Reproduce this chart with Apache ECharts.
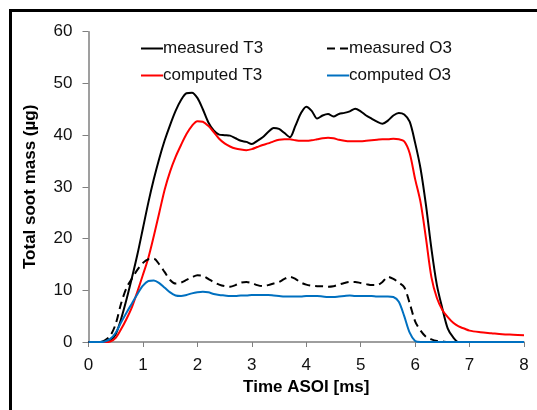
<!DOCTYPE html>
<html>
<head>
<meta charset="utf-8">
<script src="https://cdn.jsdelivr.net/npm/echarts@6/dist/echarts.min.js"></script>
<style>
  html, body { margin: 0; padding: 0; background: #fff; }
  #chart { width: 537px; height: 410px; }
</style>
</head>
<body>
<div id="chart"></div>
<script>
// time after start of injection [ms]
const timeMs = [
  0.0, 0.1, 0.2, 0.3, 0.4, 0.5, 0.6, 0.7, 0.8, 0.9,
  1.0, 1.1, 1.2, 1.3, 1.4, 1.5, 1.6, 1.7, 1.8, 1.9,
  2.0, 2.1, 2.2, 2.3, 2.4, 2.5, 2.6, 2.7, 2.8, 2.9,
  3.0, 3.1, 3.2, 3.3, 3.4, 3.5, 3.6, 3.7, 3.8, 3.9,
  4.0, 4.1, 4.2, 4.3, 4.4, 4.5, 4.6, 4.7, 4.8, 4.9,
  5.0, 5.1, 5.2, 5.3, 5.4, 5.5, 5.6, 5.7, 5.8, 5.9,
  6.0, 6.1, 6.2, 6.3, 6.4, 6.5, 6.6, 6.7, 6.8, 6.9,
  7.0, 7.2, 7.4, 7.6, 7.8, 8.0
]

const measuredT3 = [
  0, 0, 0, 0, 0.3, 1.5, 4.5, 8.3, 12.5, 17,
  22, 27, 31.5, 35.5, 39, 42, 44.7, 46.8, 48.1, 48.2,
  47.2, 45, 42.5, 40.9, 40.1, 40, 39.9, 39.4, 38.9, 38.7,
  38.3, 38.9, 39.6, 40.6, 41.4, 41.2, 40.4, 39.6, 41.8, 44.2,
  45.5, 44.7, 43.2, 43.8, 44.1, 43.6, 44.1, 44.3, 44.6, 45.1,
  44.6, 43.8, 43.2, 42.6, 42.2, 42.8, 43.8, 44.3, 44, 42.6,
  38.5, 33.5, 26.4, 18, 11, 6.5, 2.6, 0.9, 0, 0,
  0, 0, 0, 0, 0, 0
]

const computedT3 = [
  0, 0, 0, 0, 0.1, 0.8, 2.5, 4.5, 6.8, 9.8,
  13, 16.3, 20.5, 25, 29.5, 33, 35.8, 38.1, 40.2, 41.8,
  42.7, 42.6, 41.8, 40.6, 39.3, 38.4, 37.8, 37.4, 37.2, 37.1,
  37.3, 37.7, 38.1, 38.4, 38.8, 39.1, 39.2, 39.2, 39, 38.9,
  38.9, 39, 39.2, 39.4, 39.5, 39.4, 39.1, 38.9, 38.8, 38.8,
  38.8, 38.9, 39, 39.1, 39.2, 39.2, 39.3, 39.2, 38.8, 36.5,
  31.5, 27, 20, 12.5, 8.5, 6.2, 4.8, 3.7, 3, 2.6,
  2.2, 1.9, 1.7, 1.5, 1.4, 1.3
]

const measuredO3 = [
  0, 0, 0, 0.3, 1.2, 3.5, 7.5, 10.5, 12.3, 14,
  15.3, 16, 16.1, 15, 13.5, 12, 11.3, 11.5, 12, 12.5,
  12.9, 12.8, 12.2, 11.6, 11.1, 10.8, 10.7, 11, 11.5, 11.6,
  11.4, 11, 10.8, 11, 11.3, 11.6, 12.2, 12.6, 12.2, 11.5,
  11.1, 10.9, 10.8, 10.8, 10.7, 10.8, 11.1, 11.4, 11.6, 11.6,
  11.4, 11.2, 11, 11, 11.6, 12.6, 12.2, 11.5, 10.6, 7.5,
  4, 2.2, 1, 0.5, 0.2, 0.1, 0, 0, 0, 0,
  0, 0, 0, 0, 0, 0
]

const computedO3 = [
  0, 0, 0, 0.1, 0.6, 1.8, 3.8, 5.7, 7.5, 9.3,
  10.9, 11.8, 11.9, 11.4, 10.5, 9.6, 9, 8.9, 9.1, 9.4,
  9.6, 9.7, 9.6, 9.3, 9.1, 9, 8.9, 8.9, 9, 9,
  9.1, 9.1, 9.1, 9.1, 9, 8.9, 8.8, 8.8, 8.8, 8.8,
  8.9, 8.9, 8.9, 8.8, 8.7, 8.7, 8.8, 8.9, 9, 8.9,
  8.9, 8.9, 8.9, 8.8, 8.8, 8.8, 8.7, 7.8, 5, 1.8,
  0.2, 0, 0, 0, 0, 0, 0, 0, 0, 0,
  0, 0, 0, 0, 0, 0
]

const pairs = (ys) => timeMs.map((t, i) => [t, ys[i]])

const font = 'Liberation Sans, Arial, sans-serif'
const chart = echarts.init(document.getElementById('chart'))

const legendBase = {
  orient: 'vertical',
  top: 35,
  itemWidth: 22, itemHeight: 10, itemGap: 10,
  itemStyle: { opacity: 0 },
  textStyle: { fontSize: 17, color: '#111', padding: [0, 0, 0, -5] }
}

const option = {
  animation: false,
  backgroundColor: '#fff',
  textStyle: { fontFamily: font },
  graphic: [
    {
      type: 'rect',
      shape: { x: 10.5, y: 10.5, width: 600, height: 500 },
      style: { fill: 'none', stroke: '#000', lineWidth: 3 }
    }
  ],
  grid: { left: 88.5, right: 13, top: 31.7, bottom: 68 },
  legend: [
    Object.assign({ left: 135, data: ['measured T3', 'computed T3'] }, legendBase),
    Object.assign({ left: 321, data: ['measured O3', 'computed O3'] }, legendBase)
  ],
  xAxis: {
    type: 'value',
    min: 0, max: 8, interval: 1,
    name: 'Time ASOI [ms]',
    nameLocation: 'middle',
    nameGap: 32,
    nameTextStyle: { fontSize: 17, fontWeight: 'bold', color: '#000' },
    axisLine: { lineStyle: { color: '#7f7f7f', width: 1.5 } },
    axisTick: { length: 5, lineStyle: { color: '#7f7f7f' } },
    axisLabel: { fontSize: 17, color: '#111', margin: 15 },
    splitLine: { show: false }
  },
  yAxis: {
    type: 'value',
    min: 0, max: 60, interval: 10,
    name: 'Total soot mass (µg)',
    nameLocation: 'middle',
    nameGap: 50,
    nameTextStyle: { fontSize: 17, fontWeight: 'bold', color: '#000' },
    axisLine: { show: true, lineStyle: { color: '#7f7f7f', width: 1.5 } },
    axisTick: { show: true, length: 6, lineStyle: { color: '#7f7f7f' } },
    axisLabel: { fontSize: 17, color: '#111', margin: 16 },
    splitLine: { show: false }
  },
  series: [
    {
      name: 'measured T3', type: 'line', smooth: 0.3, symbol: 'none',
      itemStyle: { color: '#000' },
      lineStyle: { color: '#000', width: 2 },
      data: pairs(measuredT3)
    },
    {
      name: 'computed T3', type: 'line', smooth: 0.3, symbol: 'none',
      itemStyle: { color: '#ff0000' },
      lineStyle: { color: '#ff0000', width: 2 },
      data: pairs(computedT3)
    },
    {
      name: 'measured O3', type: 'line', smooth: 0.3, symbol: 'none',
      itemStyle: { color: '#000' },
      lineStyle: { color: '#000', width: 2, type: [8, 5] },
      data: pairs(measuredO3)
    },
    {
      name: 'computed O3', type: 'line', smooth: 0.3, symbol: 'none',
      itemStyle: { color: '#0070c0' },
      lineStyle: { color: '#0070c0', width: 2 },
      data: pairs(computedO3)
    }
  ]
}

chart.setOption(option)
</script>
</body>
</html>
